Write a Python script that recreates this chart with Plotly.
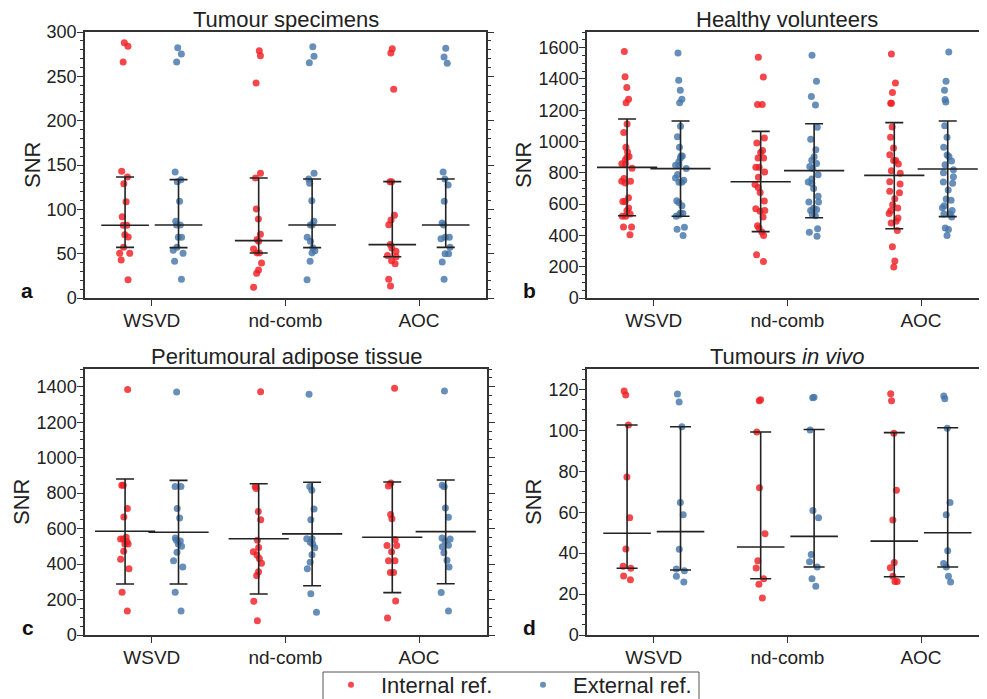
import plotly.graph_objects as go

methods = ['WSVD', 'nd-comb', 'AOC']
groups = ['Internal ref.', 'External ref.']

# panel a: tumour specimens (one list per method)
a_int = [
    [288.0, 283.8, 266.2, 142.9, 136.5, 128.9, 108.6, 91.7, 82.0, 82.0, 71.4, 68.8, 57.1, 50.4, 50.4, 42.9, 20.7],
    [278.9, 273.3, 242.5, 140.6, 135.3, 100.4, 89.1, 71.8, 66.0, 63.9, 55.3, 50.8, 50.8, 39.5, 31.6, 27.8, 12.0],
    [281.2, 276.3, 235.3, 131.2, 131.2, 93.2, 88.0, 82.7, 60.2, 56.4, 52.6, 48.0, 46.6, 42.1, 38.7, 21.1, 13.5],
]
a_ext = [
    [282.3, 275.2, 266.2, 142.1, 133.5, 131.2, 109.0, 86.5, 82.3, 82.3, 68.4, 68.4, 57.1, 53.8, 50.4, 41.4, 21.1],
    [283.5, 272.6, 265.4, 140.6, 134.2, 129.3, 109.8, 86.5, 82.3, 82.3, 68.4, 63.9, 56.8, 53.4, 50.8, 41.4, 20.7],
    [281.6, 271.8, 264.7, 142.1, 134.2, 127.4, 109.0, 84.6, 82.3, 68.4, 68.4, 66.9, 57.1, 50.0, 50.0, 40.6, 21.1],
]
a_int_med = [82.0, 64.7, 60.2]
a_int_q1 = [57.1, 50.8, 46.6]
a_int_q3 = [136.5, 135.3, 131.2]
a_ext_med = [82.3, 82.3, 82.3]
a_ext_q1 = [56.8, 56.8, 57.1]
a_ext_q3 = [133.5, 134.2, 134.2]

# panel b: healthy volunteers
b_int = [
    [1576, 1414, 1346, 1270, 1248, 1112, 1057, 963, 933, 905, 899, 884, 858, 858, 829,
     763, 746, 746, 735, 641, 616, 616, 575, 558, 537, 522, 522, 454, 454, 405],
    [1538, 1412, 1236, 1236, 1023, 991, 942, 930, 895, 895, 835, 835, 805, 771, 726,
     707, 675, 620, 571, 560, 554, 518, 462, 447, 422, 400, 277, 234],
    [1559, 1374, 1314, 1244, 1244, 1093, 1027, 959, 916, 878, 878, 856, 814, 797, 743,
     729, 682, 673, 635, 596, 575, 558, 540, 511, 490, 479, 432, 328, 236, 198],
]
b_ext = [
    [1566, 1391, 1327, 1270, 1248, 1097, 1031, 963, 907, 907, 895, 870, 848, 848, 827,
     790, 767, 752, 739, 739, 622, 610, 590, 541, 541, 530, 522, 452, 439, 400],
    [1551, 1385, 1287, 1233, 1091, 1014, 948, 903, 880, 860, 841, 827, 788, 760, 741,
     731, 700, 650, 614, 614, 573, 565, 560, 533, 526, 443, 420, 394],
    [1572, 1385, 1327, 1268, 1253, 1101, 1027, 963, 914, 905, 876, 852, 820, 800, 775,
     741, 733, 690, 633, 624, 590, 577, 560, 537, 537, 518, 447, 437, 400],
]
b_int_med = [835, 743, 784]
b_int_q1 = [526, 424, 443]
b_int_q3 = [1144, 1065, 1121]
b_ext_med = [827, 814, 824]
b_ext_q1 = [522, 513, 520]
b_ext_q3 = [1131, 1114, 1131]

# panel c: peritumoural adipose tissue
c_int = [
    [1385, 844, 844, 714, 665, 551, 541, 541, 526, 513, 513, 472, 427, 374, 241, 135],
    [1372, 838, 826, 697, 650, 534, 494, 470, 451, 432, 404, 357, 335, 190, 81],
    [1391, 857, 840, 680, 656, 539, 504, 504, 470, 419, 419, 353, 353, 192, 96],
]
c_ext = [
    [1370, 838, 838, 714, 660, 547, 534, 530, 513, 500, 466, 419, 383, 241, 135],
    [1357, 838, 816, 711, 650, 543, 543, 523, 513, 492, 453, 410, 374, 233, 128],
    [1376, 844, 836, 716, 664, 547, 541, 530, 506, 498, 464, 421, 383, 239, 135],
]
c_int_med = [585, 543, 551]
c_int_q1 = [288, 231, 239]
c_int_q3 = [880, 853, 863]
c_ext_med = [579, 570, 583]
c_ext_q1 = [288, 278, 289]
c_ext_q3 = [872, 861, 874]

# panel d: tumours in vivo
d_int = [
    [119.3, 117.3, 102.6, 77.2, 57.3, 42.0, 33.6, 32.6, 28.8, 27.0],
    [115.0, 114.5, 99.2, 72.0, 49.5, 36.3, 32.7, 27.5, 24.8, 18.1],
    [117.9, 114.5, 98.6, 70.7, 56.2, 35.4, 32.9, 28.7, 26.1, 26.1],
]
d_ext = [
    [117.8, 113.9, 101.8, 64.7, 58.8, 41.9, 32.3, 31.4, 28.7, 25.9],
    [116.2, 116.0, 100.2, 60.8, 57.3, 39.3, 35.8, 33.2, 27.5, 23.8],
    [116.8, 115.5, 101.0, 64.8, 58.8, 41.2, 34.9, 33.2, 28.7, 25.9],
]
d_int_med = [49.7, 43.0, 45.9]
d_int_q1 = [32.6, 27.5, 28.5]
d_int_q3 = [102.6, 99.2, 98.9]
d_ext_med = [50.5, 48.2, 50.0]
d_ext_q1 = [31.8, 33.2, 33.2]
d_ext_q3 = [101.8, 100.4, 101.3]

W, H = 987, 699
PAGE = 8  # the page body margin shifts the figure by this much
SLOT = 133.6  # pixel width of one category slot
FONT = 'Liberation Sans, Arial, sans-serif'
INK = '#222222'
RED = 'rgba(240, 30, 35, 0.82)'
BLUE = 'rgba(70, 118, 170, 0.82)'
OFFSET = 0.2


def px(x):
    """Screen x pixel -> paper fraction."""
    return (x - PAGE) / W


def py(y):
    """Screen y pixel -> paper fraction."""
    return 1 - (y - PAGE) / H


# box = plot area on screen (left, right, top, bottom); snr_x / letter_x on screen
panels = [
    dict(title='Tumour specimens', letter='a', box=(85, 486, 32, 298), snr_x=32, letter_x=27,
         rng=[0, 300], dtick=50, minor=10, medw=34, cap=9,
         data=[(a_int, a_int_med, a_int_q1, a_int_q3), (a_ext, a_ext_med, a_ext_q1, a_ext_q3)]),
    dict(title='Healthy volunteers', letter='b', box=(587, 995, 32, 298), snr_x=523, letter_x=529,
         rng=[0, 1700], dtick=200, minor=50, medw=43, cap=9,
         data=[(b_int, b_int_med, b_int_q1, b_int_q3), (b_ext, b_ext_med, b_ext_q1, b_ext_q3)]),
    dict(title='Peritumoural adipose tissue', letter='c', box=(85, 487, 369, 635), snr_x=21, letter_x=28,
         rng=[0, 1500], dtick=200, minor=50, medw=43, cap=9,
         data=[(c_int, c_int_med, c_int_q1, c_int_q3), (c_ext, c_ext_med, c_ext_q1, c_ext_q3)]),
    dict(title='Tumours <i>in vivo</i>', letter='d', box=(587, 995, 369, 635), snr_x=533, letter_x=529,
         rng=[0, 130], dtick=20, minor=5, medw=34, cap=10.5,
         data=[(d_int, d_int_med, d_int_q1, d_int_q3), (d_ext, d_ext_med, d_ext_q1, d_ext_q3)]),
]

fig = go.Figure()
annotations = []

for k, p in enumerate(panels):
    n = '' if k == 0 else str(k + 1)
    xa, ya = 'x' + n, 'y' + n
    x0, x1, y0, y1 = p['box']
    xdom = [px(x0), min(px(x1), 1.0)]
    ydom = [py(y1), py(y0)]

    for g, (vals, med, q1, q3) in enumerate(p['data']):
        colour = RED if g == 0 else BLUE
        shift = -OFFSET if g == 0 else OFFSET
        xs, ys = [], []
        for i, v in enumerate(vals):
            xs += [i + shift] * len(v)
            ys += v
        fig.add_trace(go.Box(
            x=xs, y=ys, xaxis=xa, yaxis=ya,
            boxpoints='all', jitter=0.32, pointpos=0, width=0.3,
            line=dict(width=0), fillcolor='rgba(0,0,0,0)',
            marker=dict(color=colour, size=7),
            showlegend=False, hoverinfo='y'
        ))
        fig.add_trace(go.Scatter(
            x=[i + shift for i in range(len(methods))], y=med,
            xaxis=xa, yaxis=ya, mode='markers',
            marker=dict(symbol='line-ew', size=p['medw'],
                        line=dict(color=INK, width=1.6)),
            error_y=dict(type='data', symmetric=False,
                         array=[b - m for b, m in zip(q3, med)],
                         arrayminus=[m - a for m, a in zip(med, q1)],
                         width=p['cap'], thickness=1.6, color=INK),
            showlegend=False, hoverinfo='skip'
        ))

    fig.layout['xaxis' + n] = dict(
        domain=xdom, anchor=ya, range=[-0.5, -0.5 + (x1 - x0) / SLOT],
        tickvals=list(range(len(methods))), ticktext=methods,
        ticks='outside', ticklen=6, tickwidth=1.3, tickcolor='#333',
        showline=True, linecolor='#333', linewidth=1.5, mirror=True,
        showgrid=False, zeroline=False, ticklabelstandoff=-2,
        tickfont=dict(size=19, color=INK, family=FONT)
    )
    fig.layout['yaxis' + n] = dict(
        domain=ydom, anchor=xa, range=p['rng'], dtick=p['dtick'],
        ticks='outside', ticklen=6, tickwidth=1.3, tickcolor='#333',
        minor=dict(dtick=p['minor'], ticks='outside', ticklen=3, tickcolor='#333', tickwidth=1),
        showline=True, linecolor='#333', linewidth=1.5, mirror='ticks',
        showgrid=False, zeroline=False, ticklabelstandoff=-3,
        tickfont=dict(size=18, color=INK, family=FONT)
    )

    annotations.append(dict(
        text=p['title'], xref='paper', yref='paper',
        x=px((x0 + min(x1, 987)) / 2),
        y=ydom[1], xanchor='center', yanchor='bottom', yshift=-2,
        showarrow=False, font=dict(size=22, color=INK, family=FONT)
    ))
    annotations.append(dict(
        text='SNR', xref='paper', yref='paper', textangle=-90,
        x=px(p['snr_x']), y=sum(ydom) / 2, xanchor='center', yanchor='middle',
        showarrow=False, font=dict(size=22, color=INK, family=FONT)
    ))
    annotations.append(dict(
        text='<b>' + p['letter'] + '</b>', xref='paper', yref='paper',
        x=px(p['letter_x']), y=ydom[0], xanchor='center', yanchor='bottom', yshift=-6,
        showarrow=False, font=dict(size=21, color='#111', family=FONT)
    ))

# legend entries
fig.add_trace(go.Scatter(x=[None], y=[None], mode='markers', name=groups[0],
                         marker=dict(color=RED, size=6)))
fig.add_trace(go.Scatter(x=[None], y=[None], mode='markers', name=groups[1],
                         marker=dict(color=BLUE, size=6)))

fig.update_layout(
    width=W, height=H,
    margin=dict(l=0, r=0, t=0, b=0, autoexpand=False),
    paper_bgcolor='white', plot_bgcolor='white',
    font=dict(family=FONT, color=INK),
    annotations=annotations,
    shapes=[dict(type='rect', xref='paper', yref='paper',
                 x0=px(323), x1=px(699), y0=-0.05, y1=py(672),
                 line=dict(color='#555', width=1), fillcolor='rgba(0,0,0,0)')],
    showlegend=True,
    legend=dict(orientation='h', x=px(321), y=py(664),
                xanchor='left', yanchor='top',
                borderwidth=0, bgcolor='rgba(0,0,0,0)',
                font=dict(size=22, color=INK, family=FONT),
                entrywidth=127, itemwidth=50,
                tracegroupgap=0)
)

fig.write_html('out.html')
